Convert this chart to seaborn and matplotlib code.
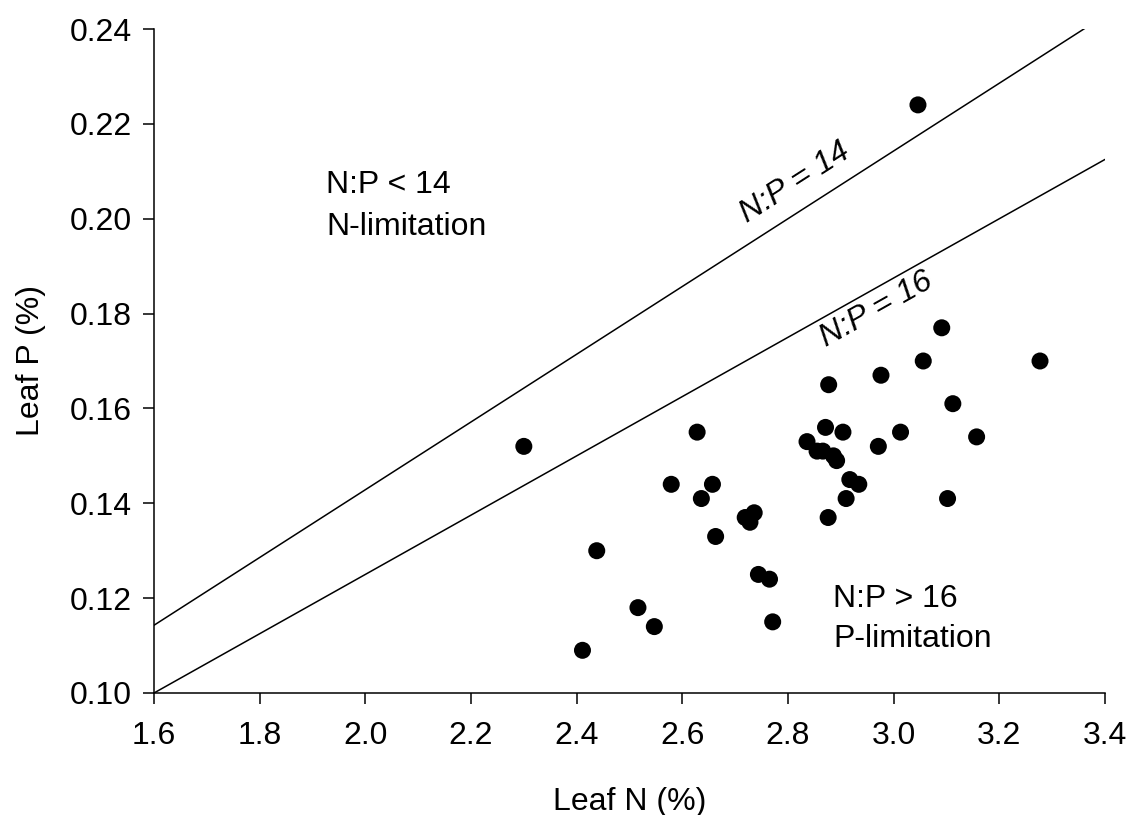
import numpy as np
import pandas as pd
import matplotlib
matplotlib.use("Agg")
import matplotlib.pyplot as plt
import seaborn as sns

# Leaf nutrient concentrations (%)
leaf_n = [2.300, 2.628, 2.579, 2.657, 2.636, 2.719, 2.736, 2.728, 2.663, 2.438,
          2.744, 2.765, 2.516, 2.547, 2.771, 2.411, 3.091, 3.056, 3.277, 2.877,
          2.976, 3.112, 2.871, 2.904, 3.013, 3.157, 2.836, 2.855, 2.866, 2.886,
          2.892, 2.971, 2.917, 2.934, 2.910, 3.102, 2.876, 3.046]
leaf_p = [0.152, 0.155, 0.144, 0.144, 0.141, 0.137, 0.138, 0.136, 0.133, 0.130,
          0.125, 0.124, 0.118, 0.114, 0.115, 0.109, 0.177, 0.170, 0.170, 0.165,
          0.167, 0.161, 0.156, 0.155, 0.155, 0.154, 0.153, 0.151, 0.151, 0.150,
          0.149, 0.152, 0.145, 0.144, 0.141, 0.141, 0.137, 0.224]

# Reference N:P ratios
ratios = [14, 16]

x_ticks = [1.6, 1.8, 2.0, 2.2, 2.4, 2.6, 2.8, 3.0, 3.2, 3.4]
y_ticks = [0.10, 0.12, 0.14, 0.16, 0.18, 0.20, 0.22, 0.24]

sns.set_style("ticks")
plt.rcParams["font.family"] = ["Liberation Sans", "DejaVu Sans"]
plt.rcParams["text.color"] = "black"
plt.rcParams["axes.labelcolor"] = "black"

df = pd.DataFrame({"Leaf N": leaf_n, "Leaf P": leaf_p})

fig = plt.figure(figsize=(11.31, 8.15), dpi=100)
ax = fig.add_axes([154 / 1131, 1 - 693 / 815, (1105 - 154) / 1131, (693 - 29) / 815])

# Ratio lines P = N / ratio
n_line = np.array([1.6, 3.4])
for r in ratios:
    ax.plot(n_line, n_line / r, color="black", lw=1.1, zorder=1)

sns.scatterplot(data=df, x="Leaf N", y="Leaf P", ax=ax, color="black",
                s=150, edgecolor="none", linewidth=0, zorder=3)

ax.set_xlim(1.6, 3.4)
ax.set_ylim(0.10, 0.24)
ax.set_xticks(x_ticks)
ax.set_xticklabels([f"{v:.1f}" for v in x_ticks])
ax.set_yticks(y_ticks)
ax.set_yticklabels([f"{v:.2f}" for v in y_ticks])

ax.set_xlabel("Leaf N (%)", fontsize=23, labelpad=26)
ax.set_ylabel("Leaf P (%)", fontsize=23, labelpad=17)
ax.tick_params(axis="both", labelsize=23, length=8, width=1.1, direction="out",
               color="black", labelcolor="black")
ax.tick_params(axis="x", pad=12)
ax.tick_params(axis="y", pad=8)

for side in ["top", "right"]:
    ax.spines[side].set_visible(False)
for side in ["left", "bottom"]:
    ax.spines[side].set_linewidth(1.1)
    ax.spines[side].set_color("black")

# Ratio labels, rotated along the lines
slope_angle = {14: np.degrees(np.arctan(1 / 14)), 16: np.degrees(np.arctan(1 / 16))}
ax.text(2.813, 0.2075, "N:P = 14", fontsize=23, style="italic",
        ha="center", va="center", rotation=slope_angle[14],
        transform_rotates_text=True, rotation_mode="anchor")
ax.text(2.968, 0.1808, "N:P = 16", fontsize=23, style="italic",
        ha="center", va="center", rotation=slope_angle[16],
        transform_rotates_text=True, rotation_mode="anchor")

# Limitation regions
ax.text(1.926, 0.2027, "N:P < 14\nN-limitation", fontsize=23,
        ha="left", va="center", linespacing=1.5)
ax.text(2.885, 0.1156, "N:P > 16\nP-limitation", fontsize=23,
        ha="left", va="center", linespacing=1.4)

fig.savefig("out.png", dpi=100)
